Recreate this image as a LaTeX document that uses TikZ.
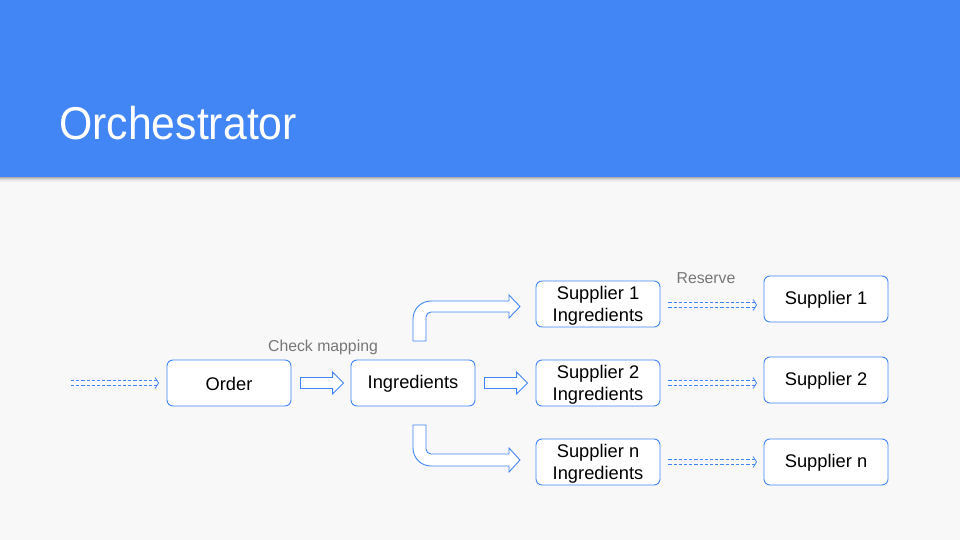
\documentclass[tikz,border=0pt]{standalone}
\usepackage{fontspec}
\setmainfont{Liberation Sans}
\usetikzlibrary{calc}
\definecolor{gblue}{HTML}{4285F4}
\definecolor{bgc}{HTML}{F8F8F8}
\definecolor{lbl}{HTML}{777777}
\newcommand\dasharrow[2]{%
  \draw[dsh] ($(#1)+(0,-2.75)$) -- ($(#2)+(-1.5,-2.75)$);
  \draw[dsh] ($(#1)+(0,2.75)$) -- ($(#2)+(-1.5,2.75)$);
  \draw[chev] ($(#2)+(-3.5,-5.5)$) -- (#2) -- ($(#2)+(-3.5,5.5)$);}
\newcommand\blockarrow[2]{%
  \draw[blk] ($(#1)+(0,-5.5)$) -- ($(#2)+(-11,-5.5)$) -- ($(#2)+(-11,-11)$) -- (#2)
    -- ($(#2)+(-11,11)$) -- ($(#2)+(-11,5.5)$) -- ($(#1)+(0,5.5)$) -- cycle;}
\newcommand\twolines[2]{\raisebox{-2.5pt}[\height][\depth]{\begin{tabular}{@{}c@{}}#1\\#2\end{tabular}}}
\newcommand\oneline[1]{\raisebox{-1.2pt}[\height][\depth]{#1}}
\begin{document}
\begin{tikzpicture}[x=1pt,y=-1pt,
  box/.style={draw=gblue, line width=0.9pt, rounded corners=6pt, fill=white,
    minimum width=124pt, minimum height=46pt, inner sep=0pt, align=center,
    font=\fontsize{18.3}{22}\selectfont},
  blk/.style={draw=gblue, line width=0.9pt, fill=white, line join=miter},
  dsh/.style={draw=gblue, line width=0.9pt, dash pattern=on 3.2pt off 2pt},
  chev/.style={draw=gblue, line width=0.8pt},
  lab/.style={text=lbl, font=\fontsize{15.8}{18}\selectfont, inner sep=0pt}]
\useasboundingbox (0,0) rectangle (960,540);
\fill[bgc] (0,0) rectangle (960,540);
\foreach \i/\o in {0/0.30,1/0.20,2/0.12,3/0.06,4/0.03}
  \fill[black,opacity=\o] (0,177+\i) rectangle (960,178+\i);
\fill[gblue] (0,0) rectangle (960,177);
\node[anchor=base west, text=white, font=\fontsize{46}{50}\selectfont, inner sep=0pt] (title) at (59,140) {\scalebox{0.93}[1]{Orchestrator}};

\node[box] (ord) at (229,383) {\oneline{Order}};
\node[box] (ing) at (413,383) {\oneline{Ingredients}};
\node[box] (s1i) at (598,304) {\twolines{Supplier 1}{Ingredients}};
\node[box] (s2i) at (598,383) {\twolines{Supplier 2}{Ingredients}};
\node[box] (sni) at (598,462) {\twolines{Supplier n}{Ingredients}};
\node[box] (s1) at (826,299) {\oneline{Supplier 1}};
\node[box] (s2) at (826,380) {\oneline{Supplier 2}};
\node[box] (sn) at (826,462) {\oneline{Supplier n}};
\node[lab] (chk) at (323,347.5) {Check mapping};
\node[lab] (res) at (706,278) {Reserve};

% entry dashed arrow
\coordinate (in0) at (71,383);
\coordinate (in1) at ($(ord.west)+(-8,0)$);
\dasharrow{in0}{in1}

% block arrows
\coordinate (a0) at ($(ord.east)+(9,0)$);
\coordinate (a1) at ($(ing.west)+(-7,0)$);
\blockarrow{a0}{a1}
\coordinate (b0) at ($(ing.east)+(9,0)$);
\coordinate (b1) at ($(s2i.west)+(-8,0)$);
\blockarrow{b0}{b1}

% bent up arrow Ingredients -> Supplier 1 Ingredients
\draw[blk] (413,341) -- (413,319) .. controls (413,309) and (421,301) .. (431,301)
  -- (509,301) -- (509,295) -- (520,306.5) -- (509,318) -- (509,312) -- (431,312)
  .. controls (428.2,312) and (426,314.2) .. (426,317) -- (426,341) -- cycle;
% bent down arrow Ingredients -> Supplier n Ingredients
\draw[blk] (413,425) -- (413,448) .. controls (413,458) and (421,466) .. (431,466)
  -- (509,466) -- (509,472) -- (520,460) -- (509,448) -- (509,454) -- (431,454)
  .. controls (428.2,454) and (426,451.8) .. (426,449) -- (426,425) -- cycle;

% reserve dashed arrows
\coordinate (r10) at ($(s1i.east)+(8,1)$);
\coordinate (r11) at ($(s1.west|-s1i.east)+(-7,1)$);
\dasharrow{r10}{r11}
\coordinate (r20) at ($(s2i.east)+(8,0)$);
\coordinate (r21) at ($(s2.west|-s2i.east)+(-7,0)$);
\dasharrow{r20}{r21}
\coordinate (rn0) at ($(sni.east)+(8,0)$);
\coordinate (rn1) at ($(sn.west|-sni.east)+(-7,0)$);
\dasharrow{rn0}{rn1}
\end{tikzpicture}
\end{document}
